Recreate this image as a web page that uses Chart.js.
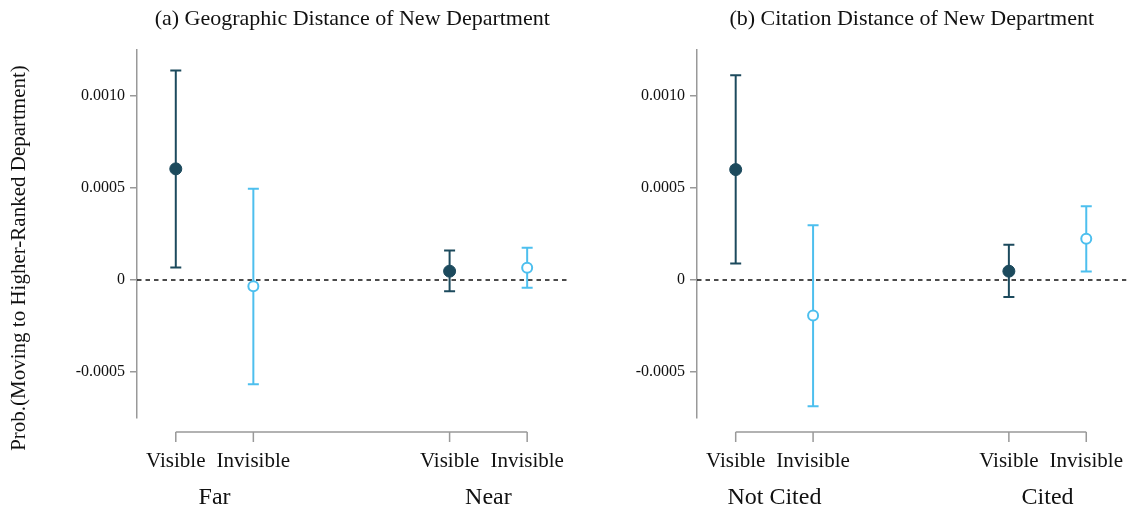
<!DOCTYPE html>
<html lang="en">

<head>
    <meta charset="UTF-8">
    <title>Coefficient plot</title>
    <style>
        body {
            margin: 0;
            background: #fff;
            width: 1134px;
            height: 510px;
            position: relative;
            overflow: hidden;
        }

        canvas {
            position: absolute;
            top: 0;
        }
    </style>
</head>

<body>
    <canvas id="geo-chart" width="575" height="510" style="left:0px"></canvas>
    <canvas id="cite-chart" width="574" height="510" style="left:560px"></canvas>

    <script src="https://cdn.jsdelivr.net/npm/chart.js"></script>
    <script>
        // categories and positions on the x axis
        const categories = ["Visible", "Invisible", "Visible", "Invisible"];
        const xPos = [1, 2, 4.53, 5.53];
        const geoGroups = ["Far", "Near"];
        const citeGroups = ["Not Cited", "Cited"];
        const yTicks = [-0.0005, 0, 0.0005, 0.001];

        // (a) geographic distance: estimate and CI bounds
        const geoEst = [0.000604, -0.000034, 0.000048, 0.000066];
        const geoLo = [0.000068, -0.000566, -0.000061, -0.000042];
        const geoHi = [0.001139, 0.000496, 0.000160, 0.000175];

        // (b) citation distance
        const citeEst = [0.000600, -0.000193, 0.000048, 0.000224];
        const citeLo = [0.000090, -0.000686, -0.000093, 0.000046];
        const citeHi = [0.001113, 0.000298, 0.000191, 0.000401];

        const dark = "#1c4a5d";
        const light = "#4dbfee";
        const serif = "'Liberation Serif', 'DejaVu Serif', serif";

        // x axis drawn a bit below the plot area, plus titles
        const axisPlugin = {
            id: "axisPlugin",
            afterDraw(chart) {
                var ctx = chart.ctx;
                var xs = chart.scales.x;
                var area = chart.chartArea;
                var o = chart.options.plugins.axisPlugin;
                var px = xPos.map(v => xs.getPixelForValue(v));
                var lineY = area.bottom + 14;

                ctx.save();
                ctx.strokeStyle = "#999";
                ctx.lineWidth = 1.5;
                ctx.beginPath();
                ctx.moveTo(px[0], lineY);
                ctx.lineTo(px[px.length - 1], lineY);
                px.forEach(p => {
                    ctx.moveTo(p, lineY);
                    ctx.lineTo(p, lineY + 10);
                });
                ctx.stroke();

                ctx.fillStyle = "#111";
                ctx.textAlign = "center";
                ctx.textBaseline = "middle";
                ctx.font = "21px " + serif;
                categories.forEach((c, i) => ctx.fillText(c, px[i], lineY + 29));

                ctx.font = "24px " + serif;
                ctx.fillText(o.groups[0], (px[0] + px[1]) / 2, lineY + 66);
                ctx.fillText(o.groups[1], (px[2] + px[3]) / 2, lineY + 66);

                ctx.font = "22px " + serif;
                ctx.fillText(o.title, (area.left + area.right) / 2, 19);

                if (o.yTitle) {
                    ctx.translate(19, 258);
                    ctx.rotate(-Math.PI / 2);
                    ctx.font = "21px " + serif;
                    ctx.fillText(o.yTitle, 0, 0);
                }
                ctx.restore();
            }
        };

        function barData(lo, hi, idx) {
            var out = [];
            idx.forEach(i => {
                out.push({ x: xPos[i], y: lo[i] });
                out.push({ x: xPos[i], y: hi[i] });
                out.push({ x: xPos[i], y: null });
            });
            return out;
        }

        function capData(lo, hi, idx) {
            var out = [];
            idx.forEach(i => {
                out.push({ x: xPos[i], y: lo[i] });
                out.push({ x: xPos[i], y: hi[i] });
            });
            return out;
        }

        function makeChart(id, est, lo, hi, groups, title, yTitle) {
            var vis = [0, 2];
            var inv = [1, 3];
            var ctx = document.getElementById(id).getContext("2d");

            var datasets = [
                {
                    type: "line",
                    data: [{ x: 0.5, y: 0 }, { x: 6.05, y: 0 }],
                    borderColor: "#111",
                    borderWidth: 1.6,
                    borderDash: [4.5, 4],
                    pointRadius: 0,
                    order: 10
                },
                {
                    type: "line",
                    data: barData(lo, hi, vis),
                    borderColor: dark,
                    borderWidth: 2,
                    pointRadius: 0,
                    spanGaps: false,
                    order: 5
                },
                {
                    type: "line",
                    data: barData(lo, hi, inv),
                    borderColor: light,
                    borderWidth: 2,
                    pointRadius: 0,
                    spanGaps: false,
                    order: 5
                },
                {
                    type: "scatter",
                    data: capData(lo, hi, vis),
                    pointStyle: "line",
                    pointRadius: 5.5,
                    borderColor: dark,
                    borderWidth: 2,
                    order: 4
                },
                {
                    type: "scatter",
                    data: capData(lo, hi, inv),
                    pointStyle: "line",
                    pointRadius: 5.5,
                    borderColor: light,
                    borderWidth: 2,
                    order: 4
                },
                {
                    type: "scatter",
                    data: vis.map(i => ({ x: xPos[i], y: est[i] })),
                    pointStyle: "circle",
                    pointRadius: 6,
                    backgroundColor: dark,
                    borderColor: dark,
                    borderWidth: 1,
                    order: 1
                },
                {
                    type: "scatter",
                    data: inv.map(i => ({ x: xPos[i], y: est[i] })),
                    pointStyle: "circle",
                    pointRadius: 5,
                    backgroundColor: "#fff",
                    borderColor: light,
                    borderWidth: 2,
                    order: 1
                }
            ];

            return new Chart(ctx, {
                type: "scatter",
                data: { datasets: datasets },
                plugins: [axisPlugin],
                options: {
                    responsive: false,
                    animation: false,
                    events: [],
                    layout: {
                        padding: { top: 50, bottom: 92, left: 0, right: id == "geo-chart" ? 5 : 4 }
                    },
                    plugins: {
                        legend: { display: false },
                        tooltip: { enabled: false },
                        axisPlugin: { groups: groups, title: title, yTitle: yTitle }
                    },
                    scales: {
                        x: {
                            type: "linear",
                            min: 0.5,
                            max: 6.05,
                            display: false
                        },
                        y: {
                            type: "linear",
                            min: -0.00075,
                            max: 0.00125,
                            afterFit: function (scale) {
                                scale.width = 137;
                            },
                            afterBuildTicks: function (scale) {
                                scale.ticks = yTicks.map(v => ({ value: v }));
                            },
                            border: { color: "#999", width: 1.5 },
                            grid: {
                                drawOnChartArea: false,
                                color: "#999",
                                lineWidth: 1.5,
                                tickLength: 7
                            },
                            ticks: {
                                color: "#111",
                                padding: 5,
                                font: { family: serif, size: 16 },
                                callback: function (v) {
                                    return v === 0 ? "0" : Number(v).toFixed(4);
                                }
                            }
                        }
                    }
                }
            });
        }

        makeChart("geo-chart", geoEst, geoLo, geoHi, geoGroups,
            "(a) Geographic Distance of New Department",
            "Prob.(Moving to Higher-Ranked Department)");
        makeChart("cite-chart", citeEst, citeLo, citeHi, citeGroups,
            "(b) Citation Distance of New Department", "");
    </script>
</body>

</html>
